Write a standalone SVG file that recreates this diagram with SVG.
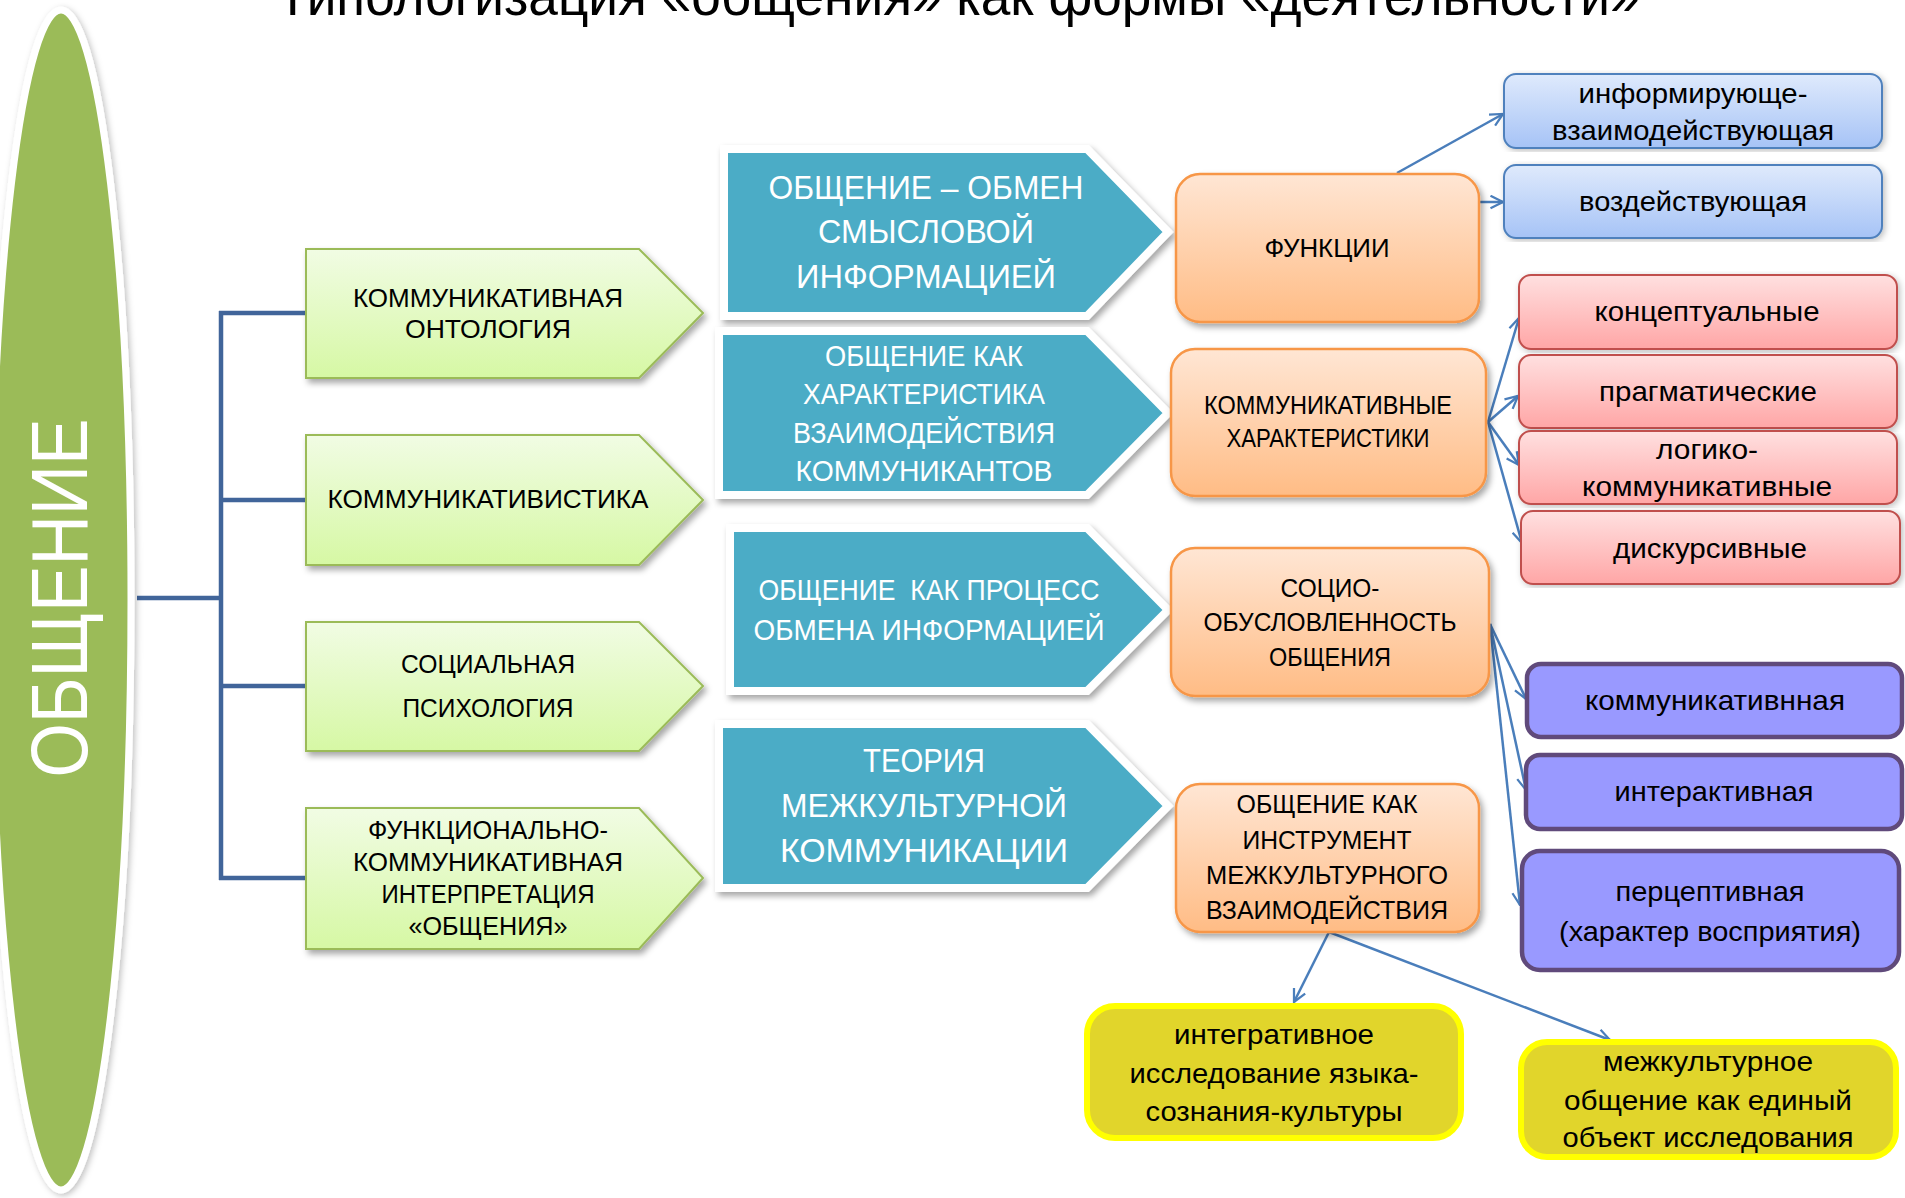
<svg xmlns="http://www.w3.org/2000/svg" width="1905" height="1198" viewBox="0 0 1905 1198">
<defs>
<style>
text{font-family:"Liberation Sans",Arial,sans-serif;text-anchor:middle}
.dk{fill:#000}
.wt{fill:#fff}
.gr{fill:url(#gG);stroke:#9BBB59;stroke-width:2}
.tl{fill:#4BACC6;stroke:#fff;stroke-width:8;stroke-linejoin:miter}
.or{fill:url(#gO);stroke:#F79646;stroke-width:2.5}
.bl{fill:url(#gB);stroke:#4F81BD;stroke-width:2}
.rd{fill:url(#gR);stroke:#C0504D;stroke-width:2}
.pu{fill:#9999FF;stroke:#604A7B;stroke-width:4.5}
.ye{fill:#E1D52B;stroke:#FFFF00;stroke-width:6}
.ar{fill:none;stroke:#4A7EBB;stroke-width:2.5}
.tr{fill:none;stroke:#41659A;stroke-width:4.5}
.g{font-size:26px}
.t1{font-size:34px}
.t2{font-size:29px}
.o{font-size:25px}
.l{font-size:28px}
</style>
<linearGradient id="gG" x1="0" y1="0" x2="0" y2="1"><stop offset="0" stop-color="#F1FCE4"/><stop offset="1" stop-color="#D6F8A4"/></linearGradient>
<linearGradient id="gO" x1="0" y1="0" x2="0" y2="1"><stop offset="0" stop-color="#FFE6D4"/><stop offset="1" stop-color="#FFBC85"/></linearGradient>
<linearGradient id="gB" x1="0" y1="0" x2="0" y2="1"><stop offset="0" stop-color="#DFEAFC"/><stop offset="1" stop-color="#A6C3F6"/></linearGradient>
<linearGradient id="gR" x1="0" y1="0" x2="0" y2="1"><stop offset="0" stop-color="#FFE0E0"/><stop offset="1" stop-color="#FFA6A6"/></linearGradient>
<filter id="sh" x="-10%" y="-10%" width="125%" height="130%"><feDropShadow dx="3" dy="4" stdDeviation="3" flood-color="#000" flood-opacity="0.35"/></filter>
<filter id="sh2" x="-10%" y="-5%" width="125%" height="110%"><feDropShadow dx="2" dy="2" stdDeviation="3" flood-color="#000" flood-opacity="0.25"/></filter>
<marker id="ah" viewBox="0 0 12 12" refX="11" refY="6" markerWidth="15" markerHeight="15" orient="auto" markerUnits="userSpaceOnUse"><path d="M1,1 L11,6 L1,11" fill="none" stroke="#4A7EBB" stroke-width="1.8"/></marker>
</defs>
<rect width="1905" height="1198" fill="#fff"/>

<text x="958" y="15" font-size="56" class="dk" textLength="1363" lengthAdjust="spacingAndGlyphs">Типологизация «общения» как формы «деятельности»</text>

<g id="connectors">
<path class="tr" d="M137,598 H221 M221,311 V880 M219,313 H306 M221,500 H306 M221,686 H306 M219,878 H306"/>
<path class="ar" marker-end="url(#ah)" d="M1397,173 L1503,114"/>
<path class="ar" marker-end="url(#ah)" d="M1479,202 L1503,202"/>
<path class="ar" marker-end="url(#ah)" d="M1488,422 L1519,318"/>
<path class="ar" marker-end="url(#ah)" d="M1488,422 L1518,396"/>
<path class="ar" marker-end="url(#ah)" d="M1488,422 L1519,465"/>
<path class="ar" marker-end="url(#ah)" d="M1488,422 L1522,543"/>
<path class="ar" marker-end="url(#ah)" d="M1490,624 L1526,699"/>
<path class="ar" marker-end="url(#ah)" d="M1490,624 L1526,790"/>
<path class="ar" marker-end="url(#ah)" d="M1490,624 L1520,905"/>
<path class="ar" marker-end="url(#ah)" d="M1329,932 L1294,1002"/>
<path class="ar" marker-end="url(#ah)" d="M1329,932 L1610,1040"/>
</g>

<g id="obshchenie">
<ellipse cx="61" cy="600" rx="70" ry="590" fill="#9BBB59" stroke="#fff" stroke-width="7" filter="url(#sh2)"/>
<text transform="translate(87,598) rotate(-90)" font-size="80" class="wt" textLength="359" lengthAdjust="spacingAndGlyphs">ОБЩЕНИЕ</text>
</g>

<g id="g1">
<path class="gr" filter="url(#sh)" d="M306,249 H639 L703,313 L639,378 H306 Z"/>
<text class="g dk" x="488" y="307" textLength="270" lengthAdjust="spacingAndGlyphs">КОММУНИКАТИВНАЯ</text>
<text class="g dk" x="488" y="338" textLength="166" lengthAdjust="spacingAndGlyphs">ОНТОЛОГИЯ</text>
</g>
<g id="g2">
<path class="gr" filter="url(#sh)" d="M306,435 H639 L703,500 L639,565 H306 Z"/>
<text class="g dk" x="488" y="508" textLength="321" lengthAdjust="spacingAndGlyphs">КОММУНИКАТИВИСТИКА</text>
</g>
<g id="g3">
<path class="gr" filter="url(#sh)" d="M306,622 H639 L703,686 L639,751 H306 Z"/>
<text class="g dk" x="488" y="673" textLength="174" lengthAdjust="spacingAndGlyphs">СОЦИАЛЬНАЯ</text>
<text class="g dk" x="488" y="717" textLength="171" lengthAdjust="spacingAndGlyphs">ПСИХОЛОГИЯ</text>
</g>
<g id="g4">
<path class="gr" filter="url(#sh)" d="M306,808 H639 L703,878 L639,949 H306 Z"/>
<text class="g dk" x="488" y="839" textLength="240" lengthAdjust="spacingAndGlyphs">ФУНКЦИОНАЛЬНО-</text>
<text class="g dk" x="488" y="871" textLength="270" lengthAdjust="spacingAndGlyphs">КОММУНИКАТИВНАЯ</text>
<text class="g dk" x="488" y="903" textLength="213" lengthAdjust="spacingAndGlyphs">ИНТЕРПРЕТАЦИЯ</text>
<text class="g dk" x="488" y="935" textLength="159" lengthAdjust="spacingAndGlyphs">«ОБЩЕНИЯ»</text>
</g>

<g id="c1">
<path class="tl" filter="url(#sh)" d="M724,149 H1087 L1168,232 L1087,316 H724 Z"/>
<text class="t1 wt" x="926" y="199" textLength="315" lengthAdjust="spacingAndGlyphs">ОБЩЕНИЕ – ОБМЕН</text>
<text class="t1 wt" x="926" y="243" textLength="216" lengthAdjust="spacingAndGlyphs">СМЫСЛОВОЙ</text>
<text class="t1 wt" x="926" y="288" textLength="260" lengthAdjust="spacingAndGlyphs">ИНФОРМАЦИЕЙ</text>
</g>
<g id="c2">
<path class="tl" filter="url(#sh)" d="M719,331 H1087 L1168,413 L1087,495 H719 Z"/>
<text class="t2 wt" x="924" y="366" textLength="198" lengthAdjust="spacingAndGlyphs">ОБЩЕНИЕ КАК</text>
<text class="t2 wt" x="924" y="404" textLength="242" lengthAdjust="spacingAndGlyphs">ХАРАКТЕРИСТИКА</text>
<text class="t2 wt" x="924" y="443" textLength="262" lengthAdjust="spacingAndGlyphs">ВЗАИМОДЕЙСТВИЯ</text>
<text class="t2 wt" x="924" y="481" textLength="257" lengthAdjust="spacingAndGlyphs">КОММУНИКАНТОВ</text>
</g>
<g id="c3">
<path class="tl" filter="url(#sh)" d="M730,528 H1087 L1168,610 L1087,691 H730 Z"/>
<text class="t2 wt" x="929" y="600" textLength="341" lengthAdjust="spacingAndGlyphs" xml:space="preserve">ОБЩЕНИЕ  КАК ПРОЦЕСС</text>
<text class="t2 wt" x="929" y="640" textLength="351" lengthAdjust="spacingAndGlyphs">ОБМЕНА ИНФОРМАЦИЕЙ</text>
</g>
<g id="c4">
<path class="tl" filter="url(#sh)" d="M719,724 H1087 L1168,806 L1087,888 H719 Z"/>
<text class="t1 wt" x="924" y="772" textLength="122" lengthAdjust="spacingAndGlyphs">ТЕОРИЯ</text>
<text class="t1 wt" x="924" y="817" textLength="286" lengthAdjust="spacingAndGlyphs">МЕЖКУЛЬТУРНОЙ</text>
<text class="t1 wt" x="924" y="862" textLength="288" lengthAdjust="spacingAndGlyphs">КОММУНИКАЦИИ</text>
</g>

<g id="o1">
<rect class="or" filter="url(#sh)" x="1176" y="174" width="303" height="148" rx="24"/>
<text class="o dk" x="1327" y="257" textLength="125" lengthAdjust="spacingAndGlyphs">ФУНКЦИИ</text>
</g>
<g id="o2">
<rect class="or" filter="url(#sh)" x="1171" y="349" width="315" height="147" rx="24"/>
<text class="o dk" x="1328" y="414" textLength="248" lengthAdjust="spacingAndGlyphs">КОММУНИКАТИВНЫЕ</text>
<text class="o dk" x="1328" y="447" textLength="203" lengthAdjust="spacingAndGlyphs">ХАРАКТЕРИСТИКИ</text>
</g>
<g id="o3">
<rect class="or" filter="url(#sh)" x="1171" y="548" width="318" height="148" rx="24"/>
<text class="o dk" x="1330" y="597" textLength="99" lengthAdjust="spacingAndGlyphs">СОЦИО-</text>
<text class="o dk" x="1330" y="631" textLength="253" lengthAdjust="spacingAndGlyphs">ОБУСЛОВЛЕННОСТЬ</text>
<text class="o dk" x="1330" y="666" textLength="122" lengthAdjust="spacingAndGlyphs">ОБЩЕНИЯ</text>
</g>
<g id="o4">
<rect class="or" filter="url(#sh)" x="1176" y="784" width="303" height="148" rx="24"/>
<text class="o dk" x="1327" y="813" textLength="181" lengthAdjust="spacingAndGlyphs">ОБЩЕНИЕ КАК</text>
<text class="o dk" x="1327" y="849" textLength="169" lengthAdjust="spacingAndGlyphs">ИНСТРУМЕНТ</text>
<text class="o dk" x="1327" y="884" textLength="242" lengthAdjust="spacingAndGlyphs">МЕЖКУЛЬТУРНОГО</text>
<text class="o dk" x="1327" y="919" textLength="242" lengthAdjust="spacingAndGlyphs">ВЗАИМОДЕЙСТВИЯ</text>
</g>

<g id="b1">
<rect class="bl" filter="url(#sh2)" x="1504" y="74" width="378" height="74" rx="12"/>
<text class="l dk" x="1693" y="103" textLength="229" lengthAdjust="spacingAndGlyphs">информирующе-</text>
<text class="l dk" x="1693" y="140" textLength="282" lengthAdjust="spacingAndGlyphs">взаимодействующая</text>
</g>
<g id="b2">
<rect class="bl" filter="url(#sh2)" x="1504" y="165" width="378" height="73" rx="12"/>
<text class="l dk" x="1693" y="211" textLength="228" lengthAdjust="spacingAndGlyphs">воздействующая</text>
</g>

<g id="r1">
<rect class="rd" filter="url(#sh2)" x="1519" y="275" width="378" height="74" rx="12"/>
<text class="l dk" x="1707" y="321" textLength="225" lengthAdjust="spacingAndGlyphs">концептуальные</text>
</g>
<g id="r2">
<rect class="rd" filter="url(#sh2)" x="1519" y="355" width="378" height="73" rx="12"/>
<text class="l dk" x="1708" y="401" textLength="218" lengthAdjust="spacingAndGlyphs">прагматические</text>
</g>
<g id="r3">
<rect class="rd" filter="url(#sh2)" x="1519" y="431" width="378" height="73" rx="12"/>
<text class="l dk" x="1707" y="459" textLength="102" lengthAdjust="spacingAndGlyphs">логико-</text>
<text class="l dk" x="1707" y="496" textLength="250" lengthAdjust="spacingAndGlyphs">коммуникативные</text>
</g>
<g id="r4">
<rect class="rd" filter="url(#sh2)" x="1521" y="511" width="379" height="73" rx="12"/>
<text class="l dk" x="1710" y="558" textLength="194" lengthAdjust="spacingAndGlyphs">дискурсивные</text>
</g>

<g id="p1">
<rect class="pu" x="1527" y="664" width="375" height="73" rx="14"/>
<text class="l dk" x="1715" y="710" textLength="260" lengthAdjust="spacingAndGlyphs">коммуникативнная</text>
</g>
<g id="p2">
<rect class="pu" x="1526" y="755" width="376" height="74" rx="14"/>
<text class="l dk" x="1714" y="801" textLength="199" lengthAdjust="spacingAndGlyphs">интерактивная</text>
</g>
<g id="p3">
<rect class="pu" x="1522" y="851" width="377" height="119" rx="18"/>
<text class="l dk" x="1710" y="901" textLength="189" lengthAdjust="spacingAndGlyphs">перцептивная</text>
<text class="l dk" x="1710" y="941" textLength="302" lengthAdjust="spacingAndGlyphs">(характер восприятия)</text>
</g>

<g id="y1">
<rect class="ye" x="1087" y="1006" width="374" height="132" rx="28"/>
<text class="l dk" x="1274" y="1044" textLength="200" lengthAdjust="spacingAndGlyphs">интегративное</text>
<text class="l dk" x="1274" y="1083" textLength="289" lengthAdjust="spacingAndGlyphs">исследование языка-</text>
<text class="l dk" x="1274" y="1121" textLength="257" lengthAdjust="spacingAndGlyphs">сознания-культуры</text>
</g>
<g id="y2">
<rect class="ye" x="1521" y="1042" width="375" height="115" rx="26"/>
<text class="l dk" x="1708" y="1071" textLength="210" lengthAdjust="spacingAndGlyphs">межкультурное</text>
<text class="l dk" x="1708" y="1110" textLength="288" lengthAdjust="spacingAndGlyphs">общение как единый</text>
<text class="l dk" x="1708" y="1147" textLength="291" lengthAdjust="spacingAndGlyphs">объект исследования</text>
</g>
</svg>
